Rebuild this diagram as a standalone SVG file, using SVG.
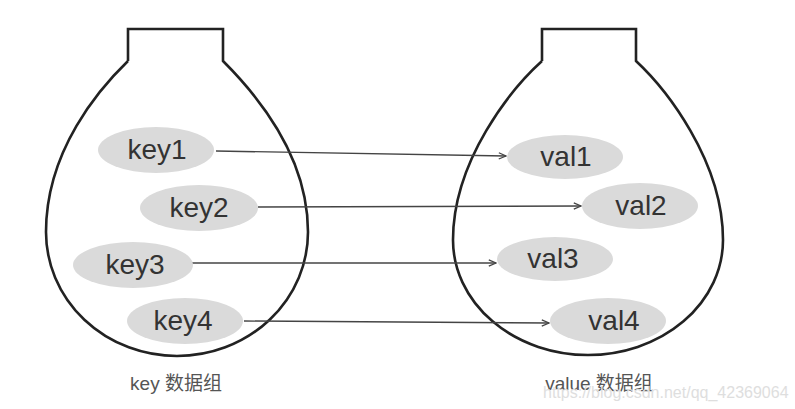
<svg xmlns="http://www.w3.org/2000/svg" width="795" height="409" viewBox="0 0 795 409">
<defs>
<style>
.bottle{fill:none;stroke:#222;stroke-width:2.6;stroke-linejoin:miter}
.node ellipse{fill:#dadada}
.node text{font-family:"Liberation Sans",Arial,sans-serif;font-size:28px;fill:#333;text-anchor:middle}
.conn line{stroke:#444;stroke-width:1.4;fill:none;marker-end:url(#arr)}
.label{font-family:"Liberation Sans","Noto Sans CJK SC",sans-serif;font-size:19px;fill:#555;text-anchor:middle}
.wm{font-family:"Liberation Sans",Arial,sans-serif;font-size:16px;fill:#dedede}
</style>
<marker id="arr" viewBox="0 0 10 10" refX="9" refY="5" markerWidth="9" markerHeight="9" markerUnits="userSpaceOnUse" orient="auto">
<path d="M1,1.5 L9,5 L1,8.5" fill="none" stroke="#444" stroke-width="1.4"/>
</marker>
</defs>
<rect width="795" height="409" fill="#fff"/>
<g id="key-bottle">
<path class="bottle" d="M128,61 L128,29 L223,29 L223,61 C250,88 308,150 308,232 A131,124 0 0 1 46,232 C46,150 100,88 128,61"/>
</g>
<g id="value-bottle">
<path class="bottle" d="M542,61 L542,29 L636,29 L636,61 C665,88 723,160 723,240 A135,115 0 0 1 453,240 C453,160 512,88 542,61"/>
</g>
<g class="conn" id="connectors">
<line x1="216" y1="151" x2="506" y2="156"/>
<line x1="258" y1="207" x2="581" y2="206"/>
<line x1="192" y1="263" x2="496" y2="263"/>
<line x1="244" y1="321" x2="549" y2="323"/>
</g>
<g class="node" id="key1"><ellipse cx="156" cy="150" rx="58" ry="23"/><text x="157" y="159">key1</text></g>
<g class="node" id="key2"><ellipse cx="199" cy="208" rx="59" ry="23"/><text x="199" y="217">key2</text></g>
<g class="node" id="key3"><ellipse cx="133" cy="265" rx="60" ry="23"/><text x="135" y="274">key3</text></g>
<g class="node" id="key4"><ellipse cx="185" cy="321" rx="58" ry="23"/><text x="183" y="330">key4</text></g>
<g class="node" id="val1"><ellipse cx="565" cy="157" rx="58" ry="22"/><text x="566" y="166">val1</text></g>
<g class="node" id="val2"><ellipse cx="640" cy="206" rx="58" ry="23"/><text x="641" y="215">val2</text></g>
<g class="node" id="val3"><ellipse cx="555" cy="259" rx="58" ry="22"/><text x="553" y="268">val3</text></g>
<g class="node" id="val4"><ellipse cx="608" cy="321" rx="58" ry="23"/><text x="614" y="330">val4</text></g>
<text class="label" x="176" y="390">key 数据组</text>
<text class="label" x="599" y="390">value 数据组</text>
<text class="wm" x="543" y="398">https://blog.csdn.net/qq_42369064</text>
</svg>
